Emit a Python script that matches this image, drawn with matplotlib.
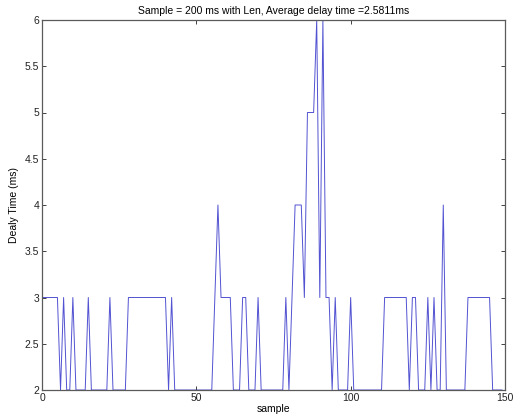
import numpy as np
import matplotlib
matplotlib.use('Agg')
import matplotlib.pyplot as plt

plt.rcParams['font.family'] = ['Liberation Sans', 'DejaVu Sans']

## Delay per sample (ms), 0..149
delay = [3, 3, 3, 3, 3, 3, 2, 3, 2, 2,
         3, 2, 2, 2, 2, 3, 2, 2, 2, 2,
         2, 2, 3, 2, 2, 2, 2, 2, 3, 3,
         3, 3, 3, 3, 3, 3, 3, 3, 3, 3,
         3, 2, 3, 2, 2, 2, 2, 2, 2, 2,
         2, 2, 2, 2, 2, 2, 3, 4, 3, 3,
         3, 3, 2, 2, 2, 3, 3, 2, 2, 2,
         3, 2, 2, 2, 2, 2, 2, 2, 2, 3,
         2, 3, 4, 4, 4, 3, 5, 5, 5, 6,
         3, 6, 3, 3, 2, 3, 2, 2, 2, 2,
         3, 2, 2, 2, 2, 2, 2, 2, 2, 2,
         2, 3, 3, 3, 3, 3, 3, 3, 3, 2,
         3, 3, 2, 2, 2, 3, 2, 3, 2, 2,
         4, 2, 2, 2, 2, 2, 2, 2, 3, 3,
         3, 3, 3, 3, 3, 3, 2, 2, 2, 2]
samples = np.arange(len(delay))

fig = plt.figure(figsize=(5.14, 4.20), dpi=100)
ax = fig.add_axes([42/514, 30/420, 463/514, 370/420])

ax.plot(samples, delay, color='#5252d2', linewidth=0.7, zorder=1.5)

ax.set_xlim(0, 150)
ax.set_ylim(2, 6)
ax.set_xticks([0, 50, 100, 150])
ax.set_yticks(np.arange(2, 6.01, 0.5))
ax.set_yticklabels(['2', '2.5', '3', '3.5', '4', '4.5', '5', '5.5', '6'])
ax.tick_params(direction='in', top=True, right=True, labelsize=7.5,
               length=3, width=0.6, colors='#222222', pad=2)
for s in ax.spines.values():
    s.set_linewidth(0.9)
    s.set_color('#5a5a5a')
    s.set_zorder(3)

ax.set_xlabel('sample', fontsize=7.5, labelpad=1)
ax.set_ylabel('Dealy Time (ms)', fontsize=7.5, labelpad=4)
ax.set_title('Sample = 200 ms with Len, Average delay time =2.5811ms', fontsize=7.5, pad=4)

fig.savefig('out.png', dpi=100)
